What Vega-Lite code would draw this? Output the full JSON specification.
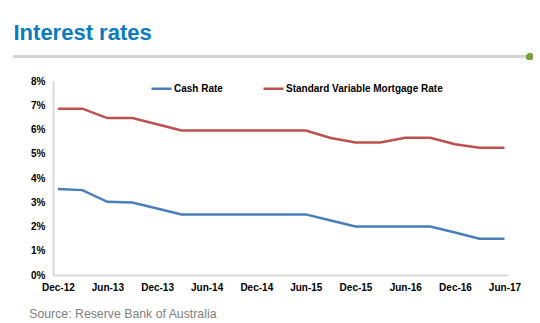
{
  "$schema": "https://vega.github.io/schema/vega-lite/v6.json",
  "autosize": {"type": "none"},
  "padding": {"left": 53, "top": 81, "right": 32, "bottom": 48},
  "width": 455,
  "height": 194,
  "background": "white",
  "config": {"view": {"stroke": null}, "font": "Liberation Sans"},
  "title": {
    "text": "Interest rates",
    "anchor": "start",
    "frame": "group",
    "dx": -39.5,
    "offset": 13,
    "dy": 21,
    "baseline": "alphabetic",
    "font": "Liberation Sans",
    "fontSize": 22,
    "fontWeight": "bold",
    "color": "#0b7bc0"
  },
  "data": {
    "values": [
      {"date": "2012/12/01", "series": "Cash Rate", "rate": 3.55},
      {"date": "2013/03/01", "series": "Cash Rate", "rate": 3.5},
      {"date": "2013/06/01", "series": "Cash Rate", "rate": 3.02},
      {"date": "2013/09/01", "series": "Cash Rate", "rate": 2.99},
      {"date": "2013/12/01", "series": "Cash Rate", "rate": 2.74},
      {"date": "2014/03/01", "series": "Cash Rate", "rate": 2.5},
      {"date": "2014/06/01", "series": "Cash Rate", "rate": 2.5},
      {"date": "2014/09/01", "series": "Cash Rate", "rate": 2.5},
      {"date": "2014/12/01", "series": "Cash Rate", "rate": 2.5},
      {"date": "2015/03/01", "series": "Cash Rate", "rate": 2.5},
      {"date": "2015/06/01", "series": "Cash Rate", "rate": 2.5},
      {"date": "2015/09/01", "series": "Cash Rate", "rate": 2.25},
      {"date": "2015/12/01", "series": "Cash Rate", "rate": 2.0},
      {"date": "2016/03/01", "series": "Cash Rate", "rate": 2.0},
      {"date": "2016/06/01", "series": "Cash Rate", "rate": 2.0},
      {"date": "2016/09/01", "series": "Cash Rate", "rate": 2.0},
      {"date": "2016/12/01", "series": "Cash Rate", "rate": 1.75},
      {"date": "2017/03/01", "series": "Cash Rate", "rate": 1.5},
      {"date": "2017/06/01", "series": "Cash Rate", "rate": 1.5},
      {"date": "2012/12/01", "series": "Standard Variable Mortgage Rate", "rate": 6.86},
      {"date": "2013/03/01", "series": "Standard Variable Mortgage Rate", "rate": 6.86},
      {"date": "2013/06/01", "series": "Standard Variable Mortgage Rate", "rate": 6.47},
      {"date": "2013/09/01", "series": "Standard Variable Mortgage Rate", "rate": 6.47},
      {"date": "2013/12/01", "series": "Standard Variable Mortgage Rate", "rate": 6.22},
      {"date": "2014/03/01", "series": "Standard Variable Mortgage Rate", "rate": 5.96},
      {"date": "2014/06/01", "series": "Standard Variable Mortgage Rate", "rate": 5.96},
      {"date": "2014/09/01", "series": "Standard Variable Mortgage Rate", "rate": 5.96},
      {"date": "2014/12/01", "series": "Standard Variable Mortgage Rate", "rate": 5.96},
      {"date": "2015/03/01", "series": "Standard Variable Mortgage Rate", "rate": 5.96},
      {"date": "2015/06/01", "series": "Standard Variable Mortgage Rate", "rate": 5.96},
      {"date": "2015/09/01", "series": "Standard Variable Mortgage Rate", "rate": 5.65},
      {"date": "2015/12/01", "series": "Standard Variable Mortgage Rate", "rate": 5.46},
      {"date": "2016/03/01", "series": "Standard Variable Mortgage Rate", "rate": 5.46},
      {"date": "2016/06/01", "series": "Standard Variable Mortgage Rate", "rate": 5.66},
      {"date": "2016/09/01", "series": "Standard Variable Mortgage Rate", "rate": 5.66},
      {"date": "2016/12/01", "series": "Standard Variable Mortgage Rate", "rate": 5.39},
      {"date": "2017/03/01", "series": "Standard Variable Mortgage Rate", "rate": 5.25},
      {"date": "2017/06/01", "series": "Standard Variable Mortgage Rate", "rate": 5.25}
    ]
  },
  "layer": [
    {
      "mark": {"type": "line", "strokeWidth": 2.5},
      "encoding": {
        "x": {
          "field": "date",
          "type": "temporal",
          "scale": {"domain": [{"year": 2012, "month": 11, "date": 13}, {"year": 2017, "month": 6, "date": 14}]},
          "axis": {
            "values": [
              {"year": 2012, "month": 12, "date": 1},
              {"year": 2013, "month": 6, "date": 1},
              {"year": 2013, "month": 12, "date": 1},
              {"year": 2014, "month": 6, "date": 1},
              {"year": 2014, "month": 12, "date": 1},
              {"year": 2015, "month": 6, "date": 1},
              {"year": 2015, "month": 12, "date": 1},
              {"year": 2016, "month": 6, "date": 1},
              {"year": 2016, "month": 12, "date": 1},
              {"year": 2017, "month": 6, "date": 1}
            ],
            "tickCount": 12,
            "format": "%b-%y",
            "grid": false,
            "ticks": false,
            "tickSize": 0,
            "domainColor": "#d9d9d9",
            "domainWidth": 2,
            "labelFont": "Liberation Sans",
            "labelFontWeight": "bold",
            "labelFontSize": 10,
            "labelColor": "#000000",
            "labelPadding": 7,
            "labelOverlap": false,
            "labelFlush": false,
            "title": "Source: Reserve Bank of Australia",
            "titleFont": "Liberation Sans",
            "titleFontWeight": "normal",
            "titleFontSize": 12.3,
            "titleColor": "#7f7f7f",
            "titleAlign": "left",
            "titleAnchor": "start",
            "titleBaseline": "alphabetic",
            "titleX": -24.3,
            "titleY": 42.5
          }
        },
        "y": {
          "field": "rate",
          "type": "quantitative",
          "scale": {"domain": [0, 8], "nice": false, "zero": true},
          "axis": {
            "values": [0, 1, 2, 3, 4, 5, 6, 7, 8],
            "tickCount": 9,
            "labelExpr": "datum.value + '%'",
            "labelOverlap": false,
            "labelFlush": false,
            "grid": false,
            "ticks": false,
            "tickSize": 0,
            "domainColor": "#d9d9d9",
            "domainWidth": 2,
            "labelFont": "Liberation Sans",
            "labelFontWeight": "bold",
            "labelFontSize": 10,
            "labelColor": "#000000",
            "labelPadding": 8,
            "title": null
          }
        },
        "color": {
          "field": "series",
          "type": "nominal",
          "scale": {"domain": ["Cash Rate", "Standard Variable Mortgage Rate"], "range": ["#4a7ebb", "#c0504d"]},
          "legend": {
            "title": null,
            "orient": "none",
            "direction": "horizontal",
            "legendX": 97,
            "legendY": -4,
            "padding": 0,
            "symbolType": "stroke",
            "symbolSize": 400,
            "symbolStrokeWidth": 2.5,
            "labelFont": "Liberation Sans",
            "labelFontWeight": "bold",
            "labelFontSize": 10,
            "labelColor": "#000000",
            "labelOffset": 1,
            "columnPadding": 35
          }
        }
      }
    },
    {
      "mark": {"type": "rule", "color": "#d4d4d4", "strokeWidth": 2, "clip": false},
      "encoding": {
        "x": {"datum": {"year": 2012, "month": 6, "date": 19}, "type": "temporal"},
        "x2": {"datum": {"year": 2017, "month": 9, "date": 1}},
        "y": {"datum": 9, "type": "quantitative"}
      }
    },
    {
      "mark": {"type": "point", "filled": true, "opacity": 1, "color": "#77a23b", "size": 40, "clip": false},
      "encoding": {
        "x": {"datum": {"year": 2017, "month": 9, "date": 2}, "type": "temporal"},
        "y": {"datum": 9, "type": "quantitative"}
      }
    }
  ]
}
